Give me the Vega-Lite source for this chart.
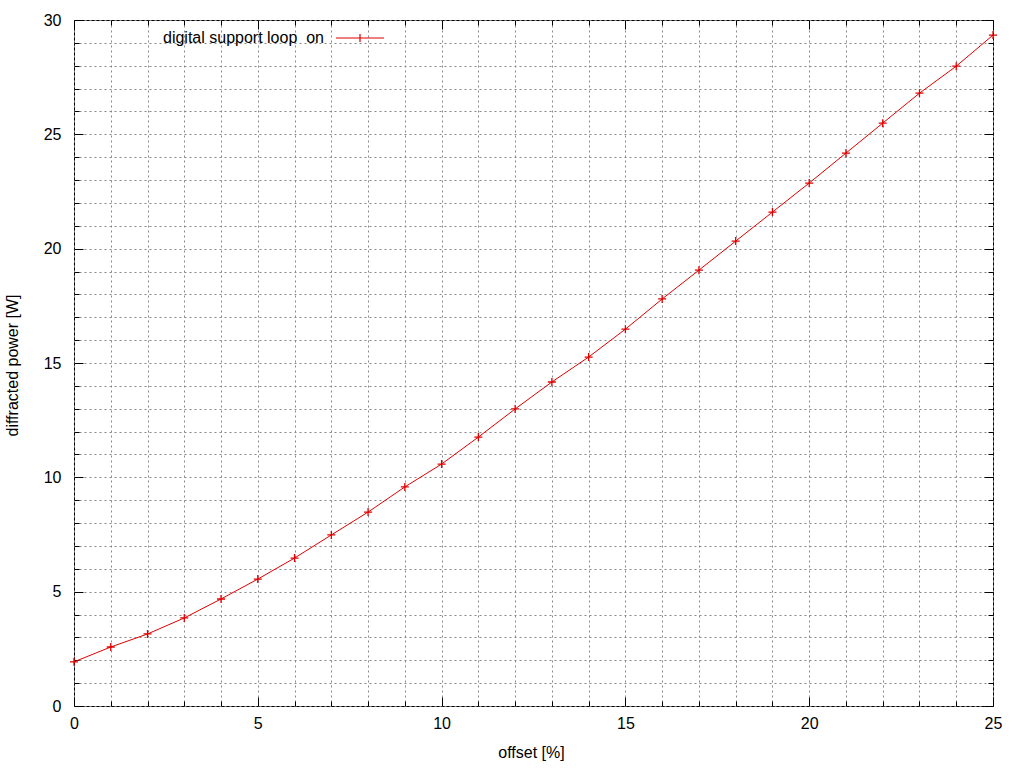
{
  "$schema": "https://vega.github.io/schema/vega-lite/v6.json",
  "width": 919,
  "height": 686,
  "autosize": "none",
  "padding": {"left": 74, "top": 20, "right": 31, "bottom": 62},
  "background": "white",
  "config": {
    "font": "Liberation Sans",
    "view": {"stroke": "black", "strokeWidth": 1}
  },
  "data": {
    "values": [
      {"offset": 0, "power": 1.93},
      {"offset": 1, "power": 2.58},
      {"offset": 2, "power": 3.15},
      {"offset": 3, "power": 3.85},
      {"offset": 4, "power": 4.68},
      {"offset": 5, "power": 5.55},
      {"offset": 6, "power": 6.47},
      {"offset": 7, "power": 7.48},
      {"offset": 8, "power": 8.48},
      {"offset": 9, "power": 9.58},
      {"offset": 10, "power": 10.58},
      {"offset": 11, "power": 11.76},
      {"offset": 12, "power": 12.99},
      {"offset": 13, "power": 14.17},
      {"offset": 14, "power": 15.26},
      {"offset": 15, "power": 16.48},
      {"offset": 16, "power": 17.8},
      {"offset": 17, "power": 19.06},
      {"offset": 18, "power": 20.33},
      {"offset": 19, "power": 21.6},
      {"offset": 20, "power": 22.87},
      {"offset": 21, "power": 24.18},
      {"offset": 22, "power": 25.49},
      {"offset": 23, "power": 26.8},
      {"offset": 24, "power": 27.98},
      {"offset": 25, "power": 29.34}
    ]
  },
  "resolve": {"axis": {"x": "independent", "y": "independent"}},
  "layer": [
    {
      "mark": {"type": "line", "color": "#e00000", "strokeWidth": 1},
      "encoding": {
        "x": {
          "field": "offset", "type": "quantitative",
          "scale": {"domain": [0, 25], "nice": false, "zero": false},
          "axis": {
            "orient": "bottom",
            "title": "offset [%]",
            "titleFont": "Liberation Sans", "titleFontSize": 16, "titleFontWeight": "normal", "titleColor": "black",
            "titleBaseline": "alphabetic", "titleX": 457, "titleY": 51,
            "values": [0,1,2,3,4,5,6,7,8,9,10,11,12,13,14,15,16,17,18,19,20,21,22,23,24,25],
            "labelExpr": "datum.value % 5 === 0 ? datum.label : ''",
            "labelFontSize": 16, "labelColor": "black", "labelPadding": 18,
            "labelFlush": false, "labelOverlap": false,
            "grid": true, "gridDash": [2, 3], "gridColor": "#888888", "gridWidth": 1,
            "domain": false,
            "ticks": true, "tickColor": "black",
            "tickSize": {"condition": {"test": "datum.value % 5 === 0", "value": -9}, "value": -5}
          }
        },
        "y": {
          "field": "power", "type": "quantitative",
          "scale": {"domain": [0, 30], "nice": false, "zero": false},
          "axis": {
            "orient": "left",
            "title": "diffracted power [W]",
            "titleFont": "Liberation Sans", "titleFontSize": 16, "titleFontWeight": "normal", "titleColor": "black",
            "titleAngle": -90, "titleBaseline": "alphabetic", "titleAlign": "center", "titleX": -57, "titleY": 345,
            "values": [0,1,2,3,4,5,6,7,8,9,10,11,12,13,14,15,16,17,18,19,20,21,22,23,24,25,26,27,28,29,30],
            "labelExpr": "datum.value % 5 === 0 ? datum.label : ''",
            "labelFontSize": 16, "labelColor": "black", "labelPadding": 22,
            "labelFlush": false, "labelOverlap": false,
            "grid": true, "gridDash": [2, 3], "gridColor": "#888888", "gridWidth": 1,
            "domain": false,
            "ticks": true, "tickColor": "black",
            "tickSize": {"condition": {"test": "datum.value % 5 === 0", "value": -9}, "value": -5}
          }
        }
      }
    },
    {
      "mark": {"type": "point", "shape": "M-1,0H1M0,-1V1", "size": 64, "filled": false, "strokeWidth": 1.3, "opacity": 1},
      "encoding": {
        "x": {
          "field": "offset", "type": "quantitative",
          "axis": {
            "orient": "top", "title": null, "labels": false, "grid": false, "domain": false,
            "values": [0,1,2,3,4,5,6,7,8,9,10,11,12,13,14,15,16,17,18,19,20,21,22,23,24,25],
            "tickColor": "black",
            "tickSize": {"condition": {"test": "datum.value % 5 === 0", "value": -9}, "value": -5}
          }
        },
        "y": {
          "field": "power", "type": "quantitative",
          "axis": {
            "orient": "right", "title": null, "labels": false, "grid": false, "domain": false,
            "values": [0,1,2,3,4,5,6,7,8,9,10,11,12,13,14,15,16,17,18,19,20,21,22,23,24,25,26,27,28,29,30],
            "tickColor": "black",
            "tickSize": {"condition": {"test": "datum.value % 5 === 0", "value": -9}, "value": -5}
          }
        },
        "color": {
          "datum": "digital support loop\u00a0\u00a0on",
          "type": "nominal",
          "scale": {"range": ["#e00000"]},
          "legend": {
            "title": null,
            "orient": "none",
            "legendX": 261,
            "legendY": -7,
            "padding": 0,
            "symbolType": "M-1,0H1M0,-0.17V0.17",
            "symbolSize": 2304,
            "symbolStrokeWidth": 1.2,
            "symbolStrokeColor": "#e00000",
            "symbolFillColor": "transparent",
            "labelFontSize": 16,
            "labelColor": "black",
            "labelFont": "Liberation Sans",
            "labelAlign": "right",
            "labelOffset": -61,
            "labelLimit": 400
          }
        }
      }
    }
  ]
}
